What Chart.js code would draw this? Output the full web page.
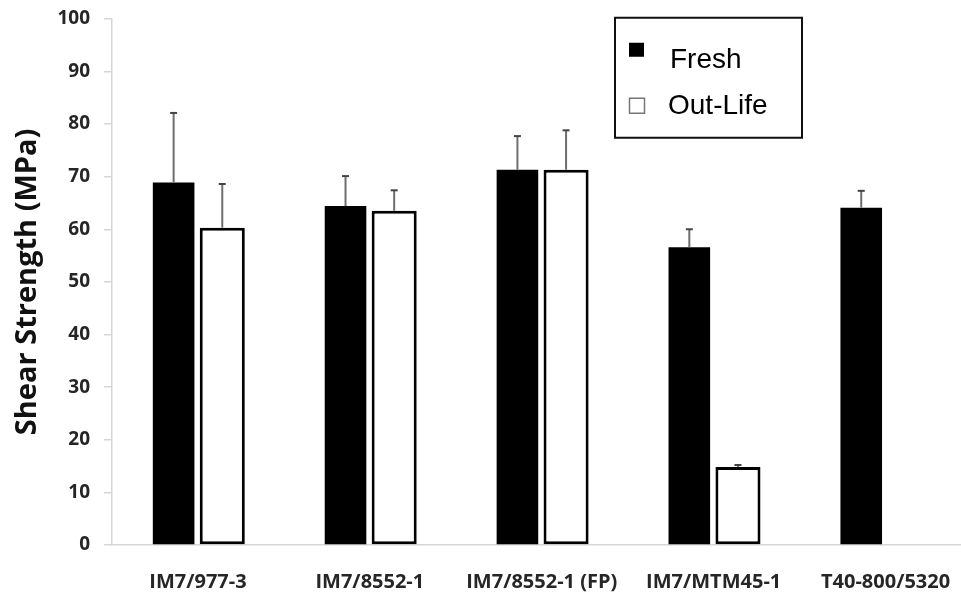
<!DOCTYPE html>
<html>
<head>
<meta charset="utf-8">
<script src="https://cdn.jsdelivr.net/npm/chart.js@4/dist/chart.umd.min.js"></script>
<style>
  html, body { margin: 0; padding: 0; background: #fff; overflow: hidden; width: 961px; height: 596px; }
  #wrap { width: 980px; height: 596px; }
</style>
</head>
<body>
<div id="wrap"><canvas id="c" width="980" height="596"></canvas></div>
<script>
// Interlaminar shear strength of prepreg systems, fresh vs. out-life material
const categories = ['IM7/977-3', 'IM7/8552-1', 'IM7/8552-1 (FP)', 'IM7/MTM45-1', 'T40-800/5320'];
const freshValues = [68.9, 64.4, 71.3, 56.6, 64.1];
const freshErrors = [13.2, 5.7, 6.4, 3.4, 3.2];
const outLifeValues = [60.3, 63.5, 71.3, 14.8, null];
const outLifeErrors = [8.3, 3.9, 7.5, 0.4, null];
const yTicks = [0, 10, 20, 30, 40, 50, 60, 70, 80, 90, 100];

// Upward-only error bars, drawn from each dataset's errors through the scales
const errorBars = {
  id: 'errorBars',
  afterDatasetsDraw(chart) {
    const { ctx } = chart;
    const y = chart.scales.y;
    chart.data.datasets.forEach((ds, di) => {
      const meta = chart.getDatasetMeta(di);
      meta.data.forEach((bar, i) => {
        const v = ds.data[i];
        const e = ds.errors[i];
        if (v == null || e == null) return;
        const yTop = y.getPixelForValue(v + e);
        const yBase = y.getPixelForValue(v);
        ctx.save();
        ctx.strokeStyle = '#6e6e6e';
        ctx.lineWidth = 2;
        ctx.beginPath();
        ctx.moveTo(bar.x, yBase);
        ctx.lineTo(bar.x, yTop);
        ctx.stroke();
        ctx.strokeStyle = '#444';
        ctx.lineWidth = 2;
        ctx.beginPath();
        ctx.moveTo(bar.x - 3.5, yTop);
        ctx.lineTo(bar.x + 3.5, yTop);
        ctx.stroke();
        ctx.restore();
      });
    });
  }
};

// Boxed legend in the upper right of the plot
const boxLegend = {
  id: 'boxLegend',
  afterDraw(chart) {
    const { ctx, chartArea } = chart;
    const bx = chartArea.left + 503, by = chartArea.top - 1, bw = 187, bh = 120;
    ctx.save();
    ctx.fillStyle = '#fff';
    ctx.fillRect(bx, by, bw, bh);
    ctx.strokeStyle = '#111';
    ctx.lineWidth = 2;
    ctx.strokeRect(bx, by, bw, bh);
    const ds = chart.data.datasets;
    // Fresh swatch
    ctx.fillStyle = '#000';
    ctx.fillRect(bx + 14, by + 25, 15, 14);
    // Out-Life swatch
    ctx.fillStyle = '#fff';
    ctx.fillRect(bx + 14, by + 80, 16, 16);
    ctx.strokeStyle = '#777';
    ctx.lineWidth = 1.5;
    ctx.strokeRect(bx + 14.5, by + 80.5, 15, 15);
    ctx.fillStyle = '#000';
    ctx.font = '28px "Liberation Sans", Arial, sans-serif';
    ctx.textBaseline = 'alphabetic';
    ctx.fillText(ds[0].label, bx + 55, by + 50);
    ctx.fillText(ds[1].label, bx + 53, by + 96);
    ctx.restore();
  }
};

new Chart(document.getElementById('c'), {
  type: 'bar',
  data: {
    labels: categories,
    datasets: [
      {
        label: 'Fresh',
        data: freshValues,
        errors: freshErrors,
        backgroundColor: '#000',
        borderWidth: 0,
        barPercentage: 0.855,
        categoryPercentage: 0.566
      },
      {
        label: 'Out-Life',
        data: outLifeValues,
        errors: outLifeErrors,
        backgroundColor: '#fff',
        borderColor: '#000',
        borderWidth: 3,
        borderSkipped: false,
        barPercentage: 0.926,
        categoryPercentage: 0.566
      }
    ]
  },
  options: {
    responsive: false,
    animation: false,
    events: [],
    layout: { padding: { top: 18, right: 8.5, left: 0, bottom: 0 } },
    plugins: { legend: { display: false }, tooltip: { enabled: false } },
    scales: {
      x: {
        grid: { display: false, drawTicks: false },
        border: { color: '#d6d6d6', width: 1.5 },
        ticks: {
          color: '#262626',
          padding: 25,
          maxRotation: 0,
          autoSkip: false,
          font: { family: 'Open Sans', weight: 'bold', size: 20 }
        },
        afterFit(scale) { scale.height = 51; }
      },
      y: {
        min: 0,
        max: 100,
        afterBuildTicks(scale) { scale.ticks = yTicks.map(v => ({ value: v })); },
        grid: { drawOnChartArea: false, drawTicks: true, tickLength: 8, color: '#d6d6d6', lineWidth: 1.5 },
        border: { color: '#d6d6d6', width: 1.5 },
        ticks: {
          color: '#262626',
          padding: 14,
          font: { family: 'Open Sans', weight: 'bold', size: 19, lineHeight: 0.5 }
        },
        title: {
          display: true,
          text: 'Shear Strength (MPa)',
          color: '#111',
          padding: { top: 10, bottom: 0 },
          font: { family: 'Open Sans', weight: 'bold', size: 29 }
        },
        afterFit(scale) { scale.width = 112; }
      }
    }
  },
  plugins: [errorBars, boxLegend]
});
</script>
</body>
</html>
